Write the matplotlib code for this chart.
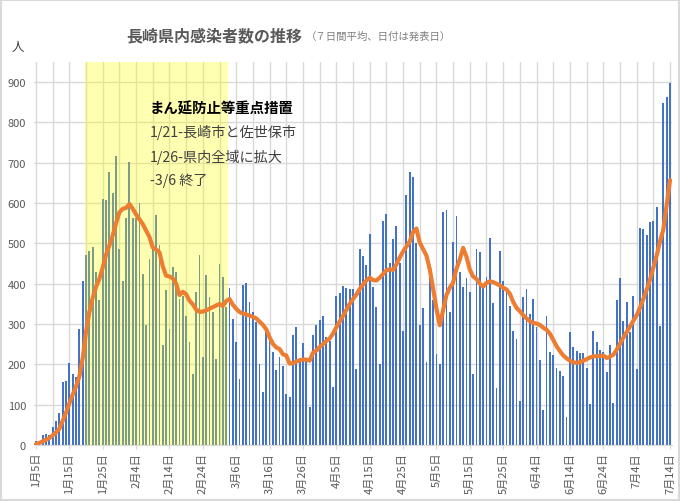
"""
plot.py

Nagasaki prefecture daily COVID-19 cases (bars) with the 7-day average (line),
Jan 5 - Jul 14. The yellow band marks the period of priority preventive measures.
"""

import numpy as np
import matplotlib.pyplot as plt
from matplotlib.patches import Rectangle

plt.rcParams['font.family'] = ['Noto Sans CJK JP', 'DejaVu Sans']

# Daily new cases, Jan 5 .. Jul 14 (one value per day)
daily_cases = [
    10, 4, 25, 27, 26, 45, 59, 80, 156, 159,
    204, 176, 168, 287, 406, 471, 481, 490, 429, 359,
    611, 607, 676, 625, 717, 487, 406, 562, 703, 563,
    563, 601, 423, 297, 462, 495, 570, 495, 247, 384,
    288, 442, 429, 363, 370, 321, 255, 176, 379, 471,
    218, 421, 367, 330, 214, 450, 417, 342, 389, 313,
    255, 164, 396, 402, 355, 330, 305, 201, 131, 288,
    263, 230, 185, 218, 197, 127, 118, 273, 292, 215,
    254, 210, 95, 273, 297, 309, 321, 268, 259, 143,
    370, 377, 394, 389, 388, 388, 189, 487, 468, 447,
    523, 392, 342, 201, 555, 574, 452, 512, 543, 452,
    282, 621, 678, 664, 500, 297, 340, 207, 413, 359,
    226, 201, 577, 582, 330, 504, 568, 429, 392, 413,
    379, 176, 487, 479, 394, 417, 514, 352, 141, 481,
    408, 384, 346, 284, 263, 108, 367, 388, 326, 361,
    292, 210, 88, 321, 230, 224, 190, 184, 170, 70,
    280, 243, 232, 228, 229, 191, 102, 284, 255, 236,
    230, 182, 249, 104, 360, 413, 307, 355, 280, 370,
    189, 539, 535, 522, 552, 556, 591, 294, 849, 862,
    897,
]

# 7-day average
avg_7day = [
    2, 5, 9, 13, 17, 24, 31, 40, 60, 80,
    103, 125, 145, 170, 215, 280, 330, 365, 392, 412,
    440, 472, 495, 520, 550, 577, 586, 588, 598, 586,
    572, 560, 548, 532, 516, 490, 485, 478, 443, 420,
    418, 413, 400, 372, 380, 374, 358, 349, 336, 330,
    331, 334, 338, 342, 346, 350, 345, 357, 362, 348,
    338, 330, 326, 324, 321, 318, 314, 306, 298, 287,
    267, 251, 242, 238, 225, 222, 202, 203, 207, 210,
    212, 212, 209, 229, 234, 243, 250, 258, 264, 276,
    292, 306, 320, 335, 350, 362, 373, 387, 398, 408,
    415, 409, 408, 415, 424, 433, 436, 434, 448, 465,
    480, 492, 505, 528, 537, 502, 486, 470, 436, 388,
    338, 297, 334, 372, 390, 403, 437, 460, 489, 467,
    435, 418, 412, 400, 393, 402, 406, 404, 400, 396,
    390, 386, 375, 355, 340, 332, 322, 314, 307, 303,
    301, 298, 291, 286, 276, 261, 245, 233, 222, 215,
    209, 205, 204, 205, 209, 213, 217, 220, 220, 221,
    222, 216, 219, 224, 236, 251, 266, 280, 294, 308,
    322, 340, 362, 385, 410, 440, 470, 505, 535, 595,
    657,
]

# Tick labels every 10 days
date_labels = [
    "1月5日", "1月15日", "1月25日", "2月4日", "2月14日", "2月24日",
    "3月6日", "3月16日", "3月26日", "4月5日", "4月15日", "4月25日",
    "5月5日", "5月15日", "5月25日", "6月4日", "6月14日", "6月24日",
    "7月4日", "7月14日",
]
y_ticks = [0, 100, 200, 300, 400, 500, 600, 700, 800, 900]

# Measures period (in day-index units on the category axis)
measure_start = 14.7
measure_end = 57.5

notes_title = "まん延防止等重点措置"
notes_lines = ["1/21-長崎市と佐世保市", "1/26-県内全域に拡大", "-3/6 終了"]

BAR_BLUE = '#4472C4'
LINE_ORANGE = '#ED7D31'
GRID_GREY = '#D9D9D9'
TEXT_GREY = '#595959'

W, H = 680, 502
fig = plt.figure(figsize=(W / 100, H / 100), dpi=100)
ax = fig.add_axes([34.3 / W, 56 / H, 637.4 / W, 383 / H])

days = np.arange(len(daily_cases))
ax.bar(days, daily_cases, width=0.55, color=BAR_BLUE, zorder=2)
ax.axvspan(measure_start, measure_end, color='#FFFF00', alpha=0.3, lw=0, zorder=3)
ax.plot(days, avg_7day, color=LINE_ORANGE, lw=3.0, solid_joinstyle='round',
        solid_capstyle='round', zorder=4)

ax.set_xlim(-0.5, len(daily_cases) - 0.5)
ax.set_ylim(0, 950)

ax.set_xticks(days[::10])
ax.set_xticklabels(date_labels, rotation=90, fontsize=8, color=TEXT_GREY)
ax.set_xticks(days[::5], minor=True)
ax.set_yticks(y_ticks)
ax.set_yticklabels([str(v) for v in y_ticks], fontsize=8, color=TEXT_GREY)

ax.tick_params(axis='x', which='major', length=3, color=GRID_GREY, pad=2)
ax.tick_params(axis='x', which='minor', length=0)
ax.tick_params(axis='y', length=0, pad=6)
ax.grid(True, which='both', color=GRID_GREY, lw=1.0, zorder=0)
ax.set_axisbelow(True)
for side in ['top', 'right', 'left']:
    ax.spines[side].set_visible(False)
ax.spines['bottom'].set_color(GRID_GREY)

# Titles and notes
fig.text(126 / W, 1 - 36 / H, "長崎県内感染者数の推移", fontsize=11.5,
         fontweight='bold', color=TEXT_GREY, va='center', ha='left')
fig.text(306 / W, 1 - 37 / H, "（７日間平均、日付は発表日）", fontsize=7.5,
         color='#7F7F7F', va='center', ha='left')
fig.text(18 / W, 1 - 47 / H, "人", fontsize=9, color='#404040', va='center', ha='center')

fig.text(150 / W, 1 - 109 / H, notes_title, fontsize=10.4, fontweight='bold',
         color='black', va='center', ha='left')
for i, line in enumerate(notes_lines):
    fig.text(150 / W, 1 - (133 + 24 * i) / H, line, fontsize=10.2,
             color='#404040', va='center', ha='left')

# Chart border
fig.patches.append(Rectangle((0.001, 0.001), 0.998, 0.998, transform=fig.transFigure,
                             fill=False, edgecolor=GRID_GREY, lw=1.5))

fig.savefig('out.png', dpi=100)
